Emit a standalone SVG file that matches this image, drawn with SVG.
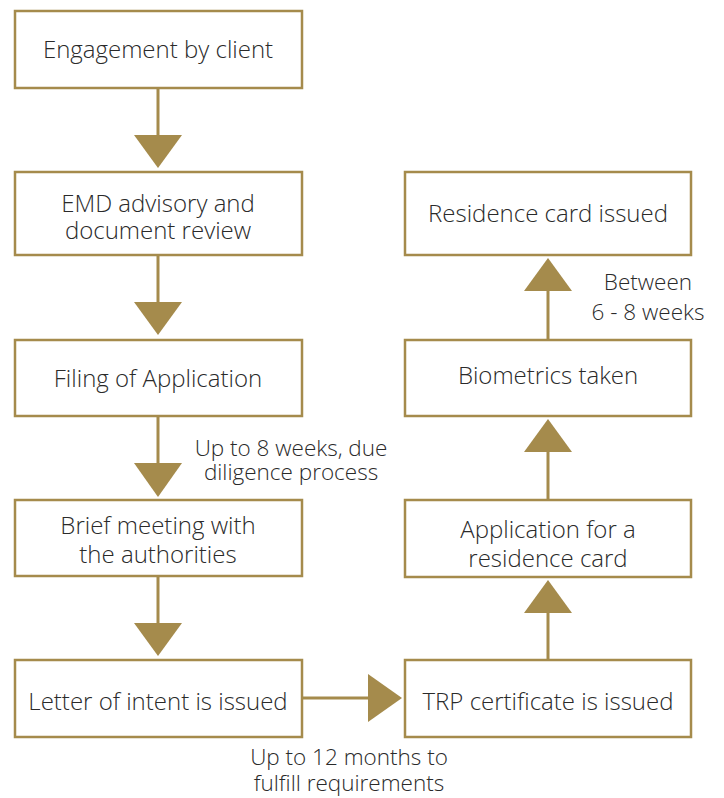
<svg xmlns="http://www.w3.org/2000/svg" width="724" height="798" viewBox="0 0 724 798">
<style>
.box{fill:#fff;stroke:#A58B4C;stroke-width:2.5}
.t{font-family:"Open Sans","Liberation Sans",sans-serif;font-size:24px;font-weight:350;fill:#2a2a2a;text-anchor:middle}
.l{font-size:22.5px}
.ln{stroke:#A58B4C;stroke-width:3;fill:none}
.ah{fill:#A58B4C}
</style>
<rect width="724" height="798" fill="#fff"/>
<g id="connectors">
<line class="ln" x1="158" y1="88" x2="158" y2="140"/>
<polygon class="ah" points="134,135 182,135 158,168"/>
<line class="ln" x1="158" y1="255" x2="158" y2="308"/>
<polygon class="ah" points="134,302 182,302 158,335"/>
<line class="ln" x1="158" y1="416" x2="158" y2="468"/>
<polygon class="ah" points="134,463 182,463 158,497"/>
<line class="ln" x1="158" y1="576" x2="158" y2="628"/>
<polygon class="ah" points="134,623 182,623 158,656"/>
<line class="ln" x1="302" y1="698" x2="372" y2="698"/>
<polygon class="ah" points="368,674 368,722 402,698"/>
<line class="ln" x1="548" y1="660" x2="548" y2="608"/>
<polygon class="ah" points="524,613 572,613 548,580"/>
<line class="ln" x1="548" y1="500" x2="548" y2="448"/>
<polygon class="ah" points="524,452 572,452 548,419"/>
<line class="ln" x1="548" y1="340" x2="548" y2="286"/>
<polygon class="ah" points="524,291 572,291 548,258"/>
<text class="t l" x="291" y="456">Up to 8 weeks, due</text>
<text class="t l" x="291" y="480">diligence process</text>
<text class="t l" x="349" y="765">Up to 12 months to</text>
<text class="t l" x="349" y="791">fulfill requirements</text>
<text class="t l" x="648" y="290">Between</text>
<text class="t l" x="648" y="320">6 - 8 weeks</text>
</g>
<g id="n1"><rect class="box" x="15" y="11" width="287" height="77"/><text class="t" x="158" y="58">Engagement by client</text></g>
<g id="n2"><rect class="box" x="15" y="172" width="287" height="83"/><text class="t" x="158" y="212">EMD advisory and</text><text class="t" x="158" y="239">document review</text></g>
<g id="n3"><rect class="box" x="15" y="340" width="287" height="76"/><text class="t" x="158" y="387">Filing of Application</text></g>
<g id="n4"><rect class="box" x="15" y="500" width="287" height="76"/><text class="t" x="158" y="534">Brief meeting with</text><text class="t" x="158" y="563">the authorities</text></g>
<g id="n5"><rect class="box" x="15" y="660" width="287" height="77"/><text class="t" x="158" y="710">Letter of intent is issued</text></g>
<g id="n6"><rect class="box" x="405" y="660" width="286" height="77"/><text class="t" x="548" y="710">TRP certificate is issued</text></g>
<g id="n7"><rect class="box" x="405" y="500" width="286" height="77"/><text class="t" x="548" y="538">Application for a</text><text class="t" x="548" y="567">residence card</text></g>
<g id="n8"><rect class="box" x="405" y="340" width="286" height="76"/><text class="t" x="548" y="384">Biometrics taken</text></g>
<g id="n9"><rect class="box" x="405" y="172" width="286" height="83"/><text class="t" x="548" y="222">Residence card issued</text></g>
</svg>
